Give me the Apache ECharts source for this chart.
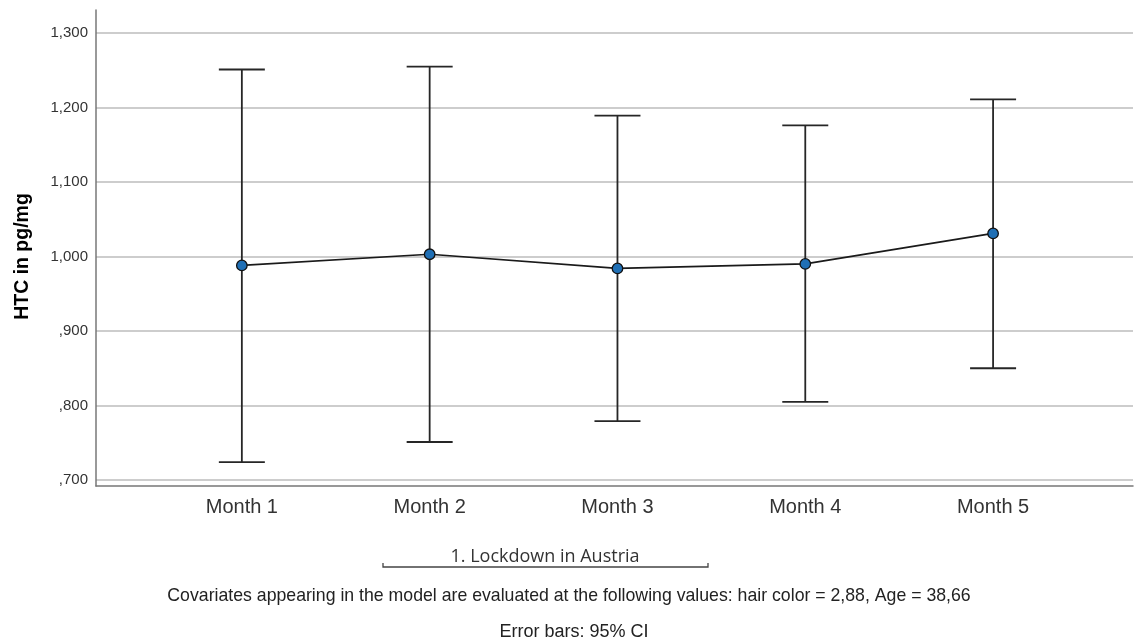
<!DOCTYPE html>
<html><head><meta charset="utf-8">
<script src="https://cdn.jsdelivr.net/npm/echarts@6/dist/echarts.min.js"></script>
<style>html,body{margin:0;padding:0;background:#fff}#c{width:1134px;height:639px}</style>
</head><body><div id="c"></div>
<script>
const categories = ['Month 1','Month 2','Month 3','Month 4','Month 5'];
const means = [0.988, 1.003, 0.984, 0.990, 1.031];
const upper = [1.251, 1.255, 1.189, 1.176, 1.211];
const lower = [0.724, 0.751, 0.779, 0.805, 0.850];
const yTicks = [0.7, 0.8, 0.9, 1.0, 1.1, 1.2, 1.3];
const yTitle = 'HTC in pg/mg';
const bracketLabel = '1. Lockdown in Austria';
const note1 = 'Covariates appearing in the model are evaluated at the following values: hair color = 2,88, Age = 38,66';
const note2 = 'Error bars: 95% CI';

const fmtY = v => { const s = v.toFixed(3).replace('.', ','); return s.startsWith('0') ? s.slice(1) : s; };
const idx = categories.map((c,i)=>i+1);

const chart = echarts.init(document.getElementById('c'));
chart.setOption({
  animation:false,
  grid:[
    {left:96,right:1,top:33,bottom:159},
    {left:96,right:1,top:10,bottom:153}
  ],
  xAxis:[
    {gridIndex:0,type:'value',min:0.2234,max:5.745,offset:6,
     axisLine:{show:false},axisTick:{show:false},splitLine:{show:false},
     axisLabel:{customValues:idx,formatter:v=>categories[Math.round(v)-1]||'',
       color:'#333',fontSize:20,fontFamily:'Liberation Sans, Arial',margin:11}},
    {gridIndex:1,type:'value',min:0,max:1,axisLine:{show:true,lineStyle:{color:'#777',width:1.5}},
     axisTick:{show:false},axisLabel:{show:false},splitLine:{show:false}}
  ],
  yAxis:[
    {gridIndex:0,type:'value',min:yTicks[0],max:yTicks[yTicks.length-1],interval:0.1,
     axisLine:{show:false},axisTick:{show:false},
     splitLine:{show:true,lineStyle:{color:'#bdbdbd',width:1.5}},
     axisLabel:{formatter:fmtY,color:'#333',fontSize:15,fontFamily:'Liberation Sans, Arial',margin:8},
     name:yTitle,nameLocation:'middle',nameGap:63,
     nameTextStyle:{fontSize:19.5,fontWeight:'bold',color:'#000',fontFamily:'Liberation Sans, Arial'}},
    {gridIndex:1,type:'value',min:0,max:1,axisLine:{show:true,lineStyle:{color:'#777',width:1.5}},
     axisTick:{show:false},axisLabel:{show:false},splitLine:{show:false}}
  ],
  series:[
    {type:'custom',xAxisIndex:0,yAxisIndex:0,
     data:idx.map((x,i)=>[x,lower[i],upper[i]]),
     renderItem:(params,api)=>{
       const x=api.value(0);
       const lo=api.coord([x,api.value(1)]);
       const hi=api.coord([x,api.value(2)]);
       const hw=23;
       const st={stroke:'#262626',lineWidth:1.8};
       return {type:'group',children:[
         {type:'line',shape:{x1:hi[0],y1:hi[1],x2:lo[0],y2:lo[1]},style:st},
         {type:'line',shape:{x1:hi[0]-hw,y1:hi[1],x2:hi[0]+hw,y2:hi[1]},style:st},
         {type:'line',shape:{x1:lo[0]-hw,y1:lo[1],x2:lo[0]+hw,y2:lo[1]},style:st}
       ]};
     }},
    {type:'line',xAxisIndex:0,yAxisIndex:0,
     data:idx.map((x,i)=>[x,means[i]]),
     symbol:'circle',symbolSize:10.5,
     lineStyle:{color:'#1a1a1a',width:1.7},
     itemStyle:{color:'#1f6fb5',borderColor:'#111',borderWidth:1.3},z:5}
  ],
  graphic:[
    {type:'text',x:545,y:557,style:{text:bracketLabel,fill:'#333',fontSize:18,fontFamily:'Open Sans, Liberation Sans',align:'center',verticalAlign:'middle'}},
    {type:'polyline',shape:{points:[[383,563],[383,567],[708,567],[708,563]]},style:{stroke:'#444',lineWidth:1.3,fill:null}},
    {type:'text',x:569,y:596,style:{text:note1,fill:'#222',fontSize:17.7,fontFamily:'Liberation Sans, Arial',align:'center',verticalAlign:'middle'}},
    {type:'text',x:574,y:632,style:{text:note2,fill:'#222',fontSize:18,fontFamily:'Liberation Sans, Arial',align:'center',verticalAlign:'middle'}}
  ]
});
</script></body></html>
